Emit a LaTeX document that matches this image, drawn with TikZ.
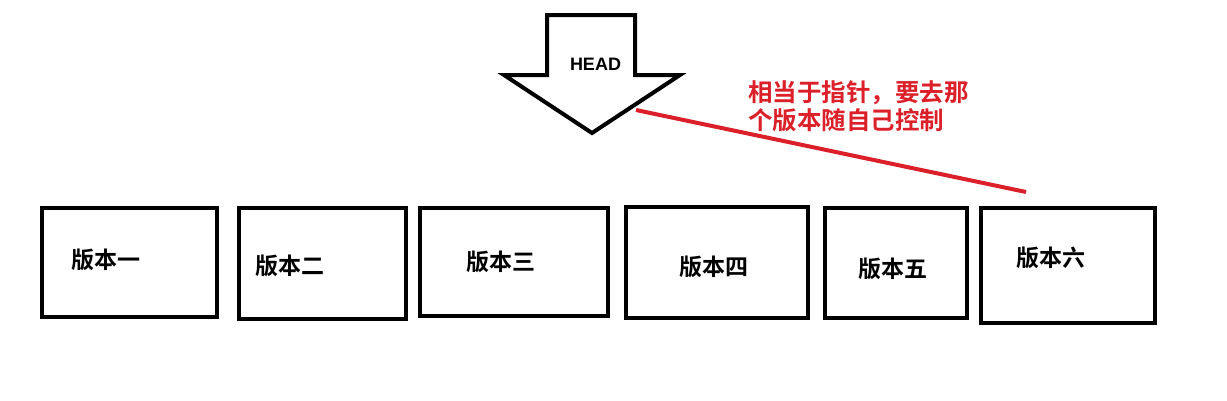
\documentclass[tikz,border=0pt]{standalone}
\usepackage{fontspec}
\setmainfont{Liberation Sans}
\newfontfamily\cjk{Noto Sans CJK SC}[BoldFont={* Bold}]
\usetikzlibrary{positioning}
\definecolor{notered}{RGB}{220,32,42}

\begin{document}
\begin{tikzpicture}[x=1pt,y=-1pt]
  \tikzstyle{version} = [rectangle, draw=black, line width=4pt, inner sep=0pt]
  \tikzstyle{vlabel} = [font=\cjk\bfseries\fontsize{23}{23}\selectfont, inner sep=0pt]
  \tikzstyle{note} = [font=\cjk\bfseries\fontsize{24.5}{28}\selectfont, text=notered, align=left, inner sep=0pt]
  \tikzstyle{pointer} = [draw=black, line width=4pt, miter limit=20]
  \tikzstyle{link} = [draw=notered, line width=4pt]

  \useasboundingbox (0,0) rectangle (1227,400);

  % the versions
  \node (ver1) [version, minimum width=175pt, minimum height=109pt] at (129.5,262.5) {};
  \node (ver2) [version, minimum width=167pt, minimum height=111pt] at (322.5,263.5) {};
  \node (ver3) [version, minimum width=188pt, minimum height=108pt] at (514,262) {};
  \node (ver4) [version, minimum width=182pt, minimum height=111pt] at (717,262.5) {};
  \node (ver5) [version, minimum width=142pt, minimum height=110pt] at (896,263) {};
  \node (ver6) [version, minimum width=174pt, minimum height=115pt] at (1068,265.5) {};

  \node (lab1) [vlabel] at (106,260) {版本一};
  \node (lab2) [vlabel] at (290,266) {版本二};
  \node (lab3) [vlabel] at (501,262) {版本三};
  \node (lab4) [vlabel] at (714,267) {版本四};
  \node (lab5) [vlabel] at (893,269) {版本五};
  \node (lab6) [vlabel] at (1051,258) {版本六};

  % the big down arrow
  \draw [pointer] (547,15) -- (635,15) -- (635,75) -- (680,75) -- (592,133)
    -- (504,75) -- (547,75) -- cycle;
  \node (head) [font=\bfseries\fontsize{18}{18}\selectfont, inner sep=0pt] at (595.5,64) {HEAD};

  \node (note) [note, anchor=north west] at (748,80) {相当于指针，要去那\\个版本随自己控制};

  \coordinate (tipedge) at (636,110);
  \coordinate (tail) at (1026,192);
  \draw [link] (tipedge) -- (tail);
\end{tikzpicture}
\end{document}
